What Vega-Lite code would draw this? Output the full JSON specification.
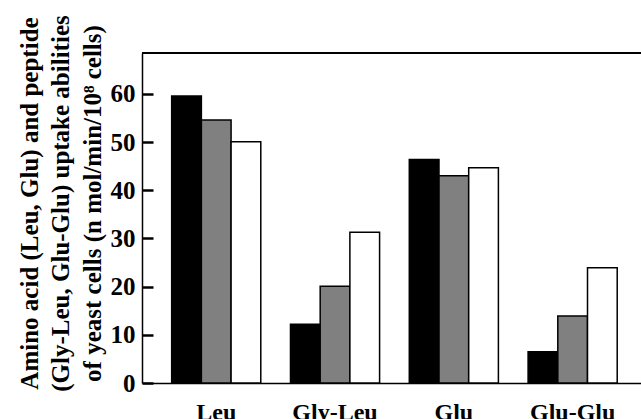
{
  "$schema": "https://vega.github.io/schema/vega-lite/v6.json",
  "autosize": {"type": "none"},
  "padding": {"left": 142, "top": 53, "right": 0, "bottom": 36},
  "width": 499,
  "height": 330,
  "config": {
    "view": {"stroke": null},
    "axis": {"labelColor": "black", "titleColor": "black", "domainColor": "black", "tickColor": "black"}
  },
  "data": {
    "values": [
      {"substrate": "Leu", "strain": "S1", "uptake": 59.6},
      {"substrate": "Leu", "strain": "S2", "uptake": 54.6},
      {"substrate": "Leu", "strain": "S3", "uptake": 50.1},
      {"substrate": "Gly-Leu", "strain": "S1", "uptake": 12.2},
      {"substrate": "Gly-Leu", "strain": "S2", "uptake": 20.1},
      {"substrate": "Gly-Leu", "strain": "S3", "uptake": 31.3},
      {"substrate": "Glu", "strain": "S1", "uptake": 46.4},
      {"substrate": "Glu", "strain": "S2", "uptake": 43.0},
      {"substrate": "Glu", "strain": "S3", "uptake": 44.7},
      {"substrate": "Glu-Glu", "strain": "S1", "uptake": 6.5},
      {"substrate": "Glu-Glu", "strain": "S2", "uptake": 13.9},
      {"substrate": "Glu-Glu", "strain": "S3", "uptake": 23.9}
    ]
  },
  "layer": [
    {
      "mark": {"type": "bar", "stroke": "black", "strokeWidth": 1.5},
      "encoding": {
        "x": {
          "field": "substrate",
          "type": "nominal",
          "sort": ["Leu", "Gly-Leu", "Glu", "Glu-Glu"],
          "scale": {"paddingInner": 0.25, "paddingOuter": 0.225, "align": 0.555},
          "axis": {
            "title": null,
            "labelAngle": 0,
            "ticks": false,
            "tickSize": 0,
            "labelPadding": 17,
            "labelFont": "Times New Roman",
            "labelFontSize": 24,
            "labelFontWeight": "bold",
            "domainWidth": 1.5
          }
        },
        "xOffset": {
          "field": "strain",
          "type": "nominal",
          "scale": {"paddingInner": 0, "paddingOuter": 0}
        },
        "y": {
          "field": "uptake",
          "type": "quantitative",
          "scale": {"domain": [0, 68.5], "nice": false},
          "axis": {
            "values": [0, 10, 20, 30, 40, 50, 60],
            "grid": false,
            "tickSize": -11,
            "tickWidth": 2.5,
            "labelPadding": 18,
            "labelFont": "Liberation Serif",
            "labelFontSize": 25,
            "labelFontWeight": "bold",
            "domainWidth": 1.5,
            "title": ["Amino acid (Leu, Glu) and peptide", "(Gly-Leu, Glu-Glu) uptake abilities", "of yeast cells (n mol/min/10⁸ cells)"],
            "titleFont": "serif",
            "titleFontSize": 25,
            "titleFontWeight": "bold",
            "titleLineHeight": 31.5,
            "titlePadding": 5,
            "titleY": 150
          }
        },
        "color": {
          "field": "strain",
          "type": "nominal",
          "scale": {"range": ["#000000", "#808080", "#ffffff"]},
          "legend": null
        }
      }
    },
    {
      "mark": {"type": "rule", "color": "black", "strokeWidth": 1.5},
      "encoding": {"y": {"datum": 68.5}}
    }
  ]
}
